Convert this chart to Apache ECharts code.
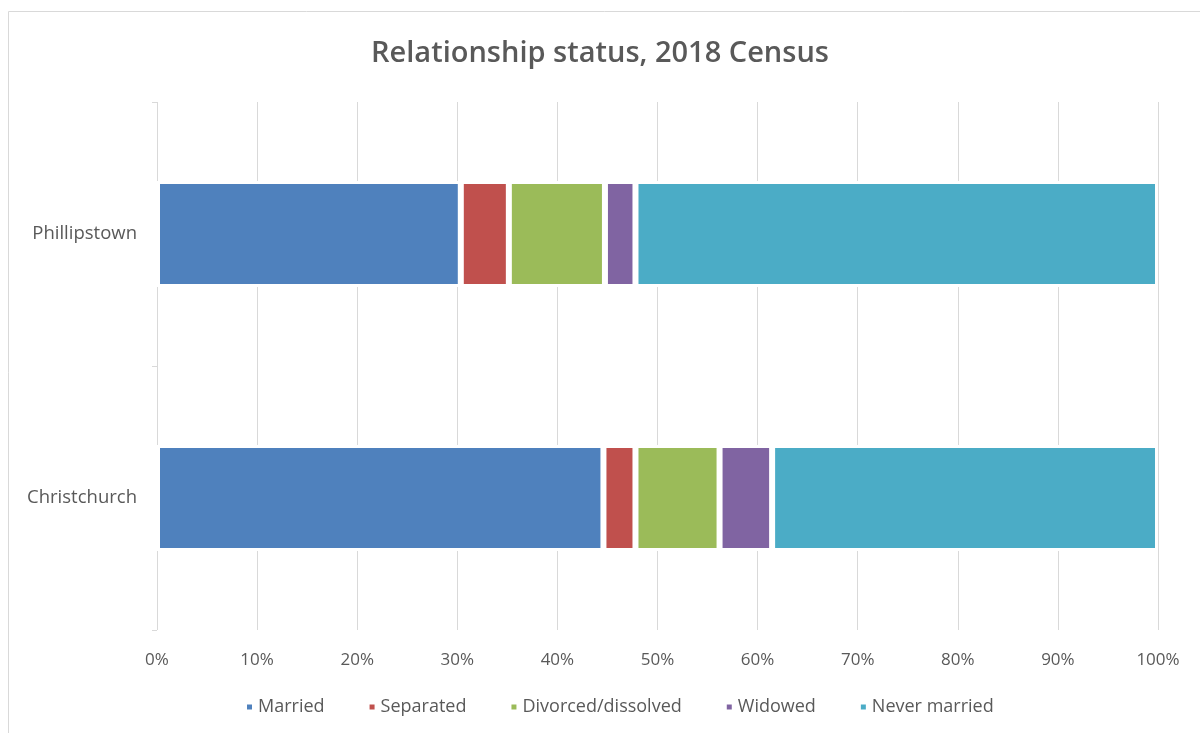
<!DOCTYPE html>
<html>
<head>
<meta charset="utf-8">
<script src="https://cdn.jsdelivr.net/npm/echarts@6/dist/echarts.min.js"></script>
<style>
  html, body { margin: 0; padding: 0; background: #fff; }
  #chart { width: 1200px; height: 733px; }
</style>
</head>
<body>
<div id="chart"></div>
<script>
// Areas, listed bottom to top on the category axis
const areas = ['Christchurch', 'Phillipstown'];

// Share of people (%) in each relationship status, per area
const married       = [44.6, 30.35];
const separated     = [3.2, 4.8];
const divorced      = [8.4, 9.6];
const widowed       = [5.25, 3.05];
const neverMarried  = [38.55, 52.2];

const seriesNames  = ['Married', 'Separated', 'Divorced/dissolved', 'Widowed', 'Never married'];
const seriesValues = [married, separated, divorced, widowed, neverMarried];
const colors = ['#4f81bd', '#c0504d', '#9bbb59', '#8064a2', '#4bacc6'];

const font = "'Open Sans', 'Noto Sans', sans-serif";
const textColor = '#595959';

const chart = echarts.init(document.getElementById('chart'), null, { renderer: 'canvas' });

chart.setOption({
  animation: false,
  color: colors,
  title: {
    text: 'Relationship status, 2018 Census',
    left: 'center',
    top: 34,
    textStyle: { fontFamily: font, fontSize: 29, fontWeight: 600, color: textColor }
  },
  graphic: [{
    type: 'rect',
    shape: { x: 8.5, y: 11.5, width: 1200, height: 740 },
    style: { fill: 'none', stroke: '#d9d9d9', lineWidth: 1 },
    silent: true
  }],
  legend: {
    bottom: 12,
    left: 240,
    icon: 'rect',
    itemWidth: 7,
    itemHeight: 7,
    itemGap: 43,
    textStyle: { fontFamily: font, fontSize: 18, color: textColor },
    data: seriesNames
  },
  grid: { left: 157, right: 42, top: 102, bottom: 103, containLabel: false },
  xAxis: {
    type: 'value',
    min: 0,
    max: 100,
    interval: 10,
    axisLine: { show: false },
    axisTick: { show: false },
    axisLabel: {
      formatter: '{value}%',
      fontFamily: font, fontSize: 17, color: textColor, margin: 22
    },
    splitLine: { lineStyle: { color: '#d9d9d9', width: 1 } }
  },
  yAxis: {
    type: 'category',
    data: areas,
    axisLine: { show: false },
    axisTick: { show: true, length: 5, lineStyle: { color: '#d9d9d9' } },
    axisLabel: { fontFamily: font, fontSize: 18.5, color: textColor, margin: 20 }
  },
  series: seriesNames.map((name, i) => ({
    name,
    type: 'bar',
    stack: 'total',
    barWidth: 106,
    data: seriesValues[i],
    itemStyle: { borderColor: '#ffffff', borderWidth: 3 }
  }))
});
</script>
</body>
</html>
